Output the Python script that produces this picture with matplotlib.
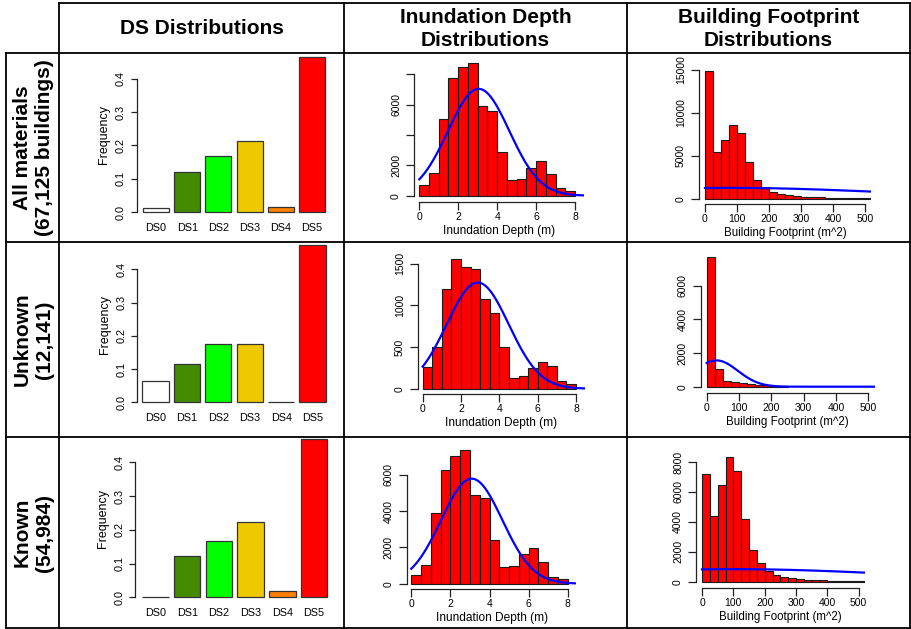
import numpy as np
import matplotlib
matplotlib.use("Agg")
import matplotlib.pyplot as plt

plt.rcParams['font.family'] = ['Liberation Sans', 'DejaVu Sans']

W, H = 911, 629

# ---- data -------------------------------------------------------------
row_labels = ["All materials\n(67,125 buildings)", "Unknown\n(12,141)", "Known\n(54,984)"]
col_titles = ["DS Distributions", "Inundation Depth\nDistributions",
              "Building Footprint\nDistributions"]

ds_names = ["DS0", "DS1", "DS2", "DS3", "DS4", "DS5"]
ds_colors = ["#FFFFFF", "#458B00", "#00FF00", "#EEC900", "#FF8000", "#FF0000"]
ds_all = [0.013, 0.121, 0.168, 0.214, 0.015, 0.467]
ds_unknown = [0.064, 0.116, 0.174, 0.174, 0.0, 0.473]
ds_known = [0.001, 0.122, 0.167, 0.222, 0.019, 0.469]

depth_bin = 0.5
depth_all = [730, 1520, 5050, 7770, 8450, 8760, 5930, 5600,
             2910, 1040, 1120, 1850, 2290, 1460, 510, 330]
depth_unknown = [264, 500, 1196, 1560, 1464, 1440, 1072, 912,
                 504, 128, 148, 244, 316, 272, 92, 52]
depth_known = [460, 1031, 3884, 6258, 7050, 7362, 4877, 4749,
               2411, 902, 975, 1620, 1951, 1196, 387, 276]

fp_bin = 25
fp_all = [14900, 5480, 6840, 8630, 7660, 4310, 2220, 1360, 780, 505, 390,
          272, 200, 170, 140, 120, 100, 85, 70, 60, 50]
fp_unknown = [7720, 1050, 356, 297, 218, 158, 119, 79, 40, 20]
fp_known = [7220, 4410, 6440, 8310, 7420, 4170, 2100, 1250, 690, 423, 312,
            223, 156, 134, 111, 90, 75, 62, 52, 45, 40]

# fitted normal curves: (mean, sd, n)
depth_fit = [(3.05, 1.575, 55590), (2.87, 1.62, 10344), (3.09, 1.566, 45520)]
fp_fit = [(80, 480, 60690), (30, 66, 10350), (100, 520, 43740)]

depth_yticks = [[0, 2000, 4000, 6000, 8000], [0, 500, 1000, 1500], [0, 2000, 4000, 6000]]
depth_ylabels = [["0", "2000", "", "6000", ""], ["0", "500", "1000", "1500"],
                 ["0", "2000", "4000", "6000"]]
fp_yticks = [[0, 5000, 10000, 15000], [0, 2000, 4000, 6000], [0, 2000, 4000, 6000, 8000]]

ds_rows = [ds_all, ds_unknown, ds_known]
depth_rows = [depth_all, depth_unknown, depth_known]
fp_rows = [fp_all, fp_unknown, fp_known]

# ---- panel geometry in pixels ------------------------------------------
# (x calibration), (y calibration), y-axis line x, x-axis line y
ds_geom = [
    ((-0.5, 143.0), (6.5, 325.0), (0.0, 212.0), (0.4, 79.0), 137.0),
    ((-0.5, 142.3), (6.5, 325.7), (0.0, 402.3), (0.4, 269.3), 137.3),
    ((-0.5, 142.3), (6.5, 327.3), (0.0, 597.3), (0.4, 462.3), 135.3),
]
depth_geom = [
    ((0, 419.3), (8, 575.0), (0, 195.7), (8000, 74.3), 414.3, 201.7),
    ((0, 422.7), (8, 576.0), (0, 388.7), (1500, 263.7), 418.0, 394.0),
    ((0, 411.3), (8, 567.7), (0, 583.7), (6000, 475.0), 406.7, 589.0),
]
fp_geom = [
    ((0, 705.0), (500, 865.0), (0, 198.7), (15000, 70.0), 699.0, 204.0),
    ((0, 706.7), (500, 868.3), (0, 386.7), (6000, 285.7), 700.7, 392.7),
    ((0, 702.0), (500, 858.7), (0, 581.7), (8000, 462.0), 696.3, 587.7),
]


def place_axes(fig, xcal, xcal2, ycal, ycal2, yaxis_px, xaxis_px, xmax, ymax):
    (xa, pa), (xb, pb) = xcal, xcal2
    (yc, qc), (yd, qd) = ycal, ycal2
    sx = (pb - pa) / (xb - xa)
    sy = (qd - qc) / (yd - yc)
    xmin = xa + (yaxis_px - pa) / sx
    ymin = yc + (xaxis_px - qc) / sy
    right = pa + (xmax - xa) * sx
    top = qc + (ymax - yc) * sy
    ax = fig.add_axes([yaxis_px / W, 1 - xaxis_px / H,
                       (right - yaxis_px) / W, (xaxis_px - top) / H])
    ax.set_xlim(xmin, xmax)
    ax.set_ylim(ymin, ymax)
    ax.patch.set_alpha(0)
    return ax


def r_style(ax, yticks, ylabels=None, xticks=None, size=7.5, tick_len=5.5):
    ax.spines['top'].set_visible(False)
    ax.spines['right'].set_visible(False)
    for s in ('left', 'bottom'):
        ax.spines[s].set_linewidth(0.9)
        ax.spines[s].set_color('#222222')
    ax.spines['left'].set_bounds(yticks[0], yticks[-1])
    ax.set_yticks(yticks)
    ax.set_yticklabels(ylabels if ylabels is not None else [str(t) for t in yticks])
    ax.tick_params(axis='y', direction='out', length=tick_len, width=0.9,
                   color='#222222', labelsize=size, pad=4, labelrotation=90)
    plt.setp(ax.get_yticklabels(), va='center')
    if xticks is not None:
        ax.spines['bottom'].set_bounds(xticks[0], xticks[-1])
        ax.set_xticks(xticks)
        ax.set_xticklabels([str(t) for t in xticks])
        ax.tick_params(axis='x', direction='out', length=tick_len, width=0.9,
                       color='#222222', labelsize=size, pad=2)


def hist_panel(ax, counts, width, fit, xmax):
    edges = np.arange(len(counts)) * width
    ax.bar(edges, counts, width=width, align='edge', color='#FF0000',
           edgecolor='#1a1a1a', linewidth=0.8)
    mean, sd, n = fit
    xs = np.linspace(0, xmax, 400)
    ys = n * width * np.exp(-(xs - mean) ** 2 / (2 * sd ** 2)) / (sd * np.sqrt(2 * np.pi))
    ax.plot(xs, ys, color='#0000FF', lw=1.6)


fig = plt.figure(figsize=(W / 100, H / 100), dpi=100)

for r in range(3):
    # damage state bars
    xc, xc2, yc, yc2, yax = ds_geom[r]
    ax = place_axes(fig, xc, xc2, yc, yc2, yax, yc[1] + 7, 6.6, 0.49)
    pos = np.arange(len(ds_names)) * 1.2
    ax.bar(pos, ds_rows[r], width=1.0, color=ds_colors, edgecolor='#333333', linewidth=0.9)
    r_style(ax, [0.0, 0.1, 0.2, 0.3, 0.4], ["0.0", "0.1", "0.2", "0.3", "0.4"],
            size=7.8, tick_len=4)
    ax.spines['bottom'].set_visible(False)
    ax.set_xticks(pos)
    ax.set_xticklabels(ds_names)
    ax.tick_params(axis='x', length=0, labelsize=7.8, pad=3)
    ax.set_ylabel("Frequency", fontsize=9, labelpad=4)

    # inundation depth histogram
    xc, xc2, yc, yc2, yax, xax = depth_geom[r]
    ax = place_axes(fig, xc, xc2, yc, yc2, yax, xax, 8.45, max(depth_rows[r]) * 1.04)
    hist_panel(ax, depth_rows[r], depth_bin, depth_fit[r], 8.45)
    r_style(ax, depth_yticks[r], depth_ylabels[r], xticks=[0, 2, 4, 6, 8])
    ax.set_xlabel("Inundation Depth (m)", fontsize=8.6, labelpad=2)

    # building footprint histogram
    xc, xc2, yc, yc2, yax, xax = fp_geom[r]
    ax = place_axes(fig, xc, xc2, yc, yc2, yax, xax, 520, max(fp_rows[r]) * 1.04)
    hist_panel(ax, fp_rows[r], fp_bin, fp_fit[r], 520)
    r_style(ax, fp_yticks[r], xticks=[0, 100, 200, 300, 400, 500])
    ax.set_xlabel("Building Footprint (m^2)", fontsize=8.3, labelpad=2)

# ---- table frame and headings ------------------------------------------
frame = fig.add_axes([0, 0, 1, 1])
frame.set_xlim(0, W)
frame.set_ylim(H, 0)
frame.axis('off')
frame.patch.set_alpha(0)

col_x = [6, 59, 344, 627, 910]
row_y = [3, 53, 242, 437, 628]
kw = dict(color='black', lw=1.3, solid_capstyle='projecting')
frame.plot([col_x[1], col_x[-1]], [row_y[0], row_y[0]], **kw)
for y in row_y[1:]:
    frame.plot([col_x[0], col_x[-1]], [y, y], **kw)
frame.plot([col_x[0], col_x[0]], [row_y[1], row_y[-1]], **kw)
for x in col_x[1:]:
    frame.plot([x, x], [row_y[0], row_y[-1]], **kw)

for i, title in enumerate(col_titles):
    frame.text((col_x[i + 1] + col_x[i + 2]) / 2, (row_y[0] + row_y[1]) / 2 + 1, title,
               ha='center', va='center', fontsize=15, fontweight='bold',
               linespacing=1.22)
for i, lab in enumerate(row_labels):
    frame.text((col_x[0] + col_x[1]) / 2 + 1, (row_y[i + 1] + row_y[i + 2]) / 2, lab,
               ha='center', va='center', rotation=90, fontsize=15,
               fontweight='bold', linespacing=1.25, multialignment='center')

fig.savefig("out.png", dpi=100)
